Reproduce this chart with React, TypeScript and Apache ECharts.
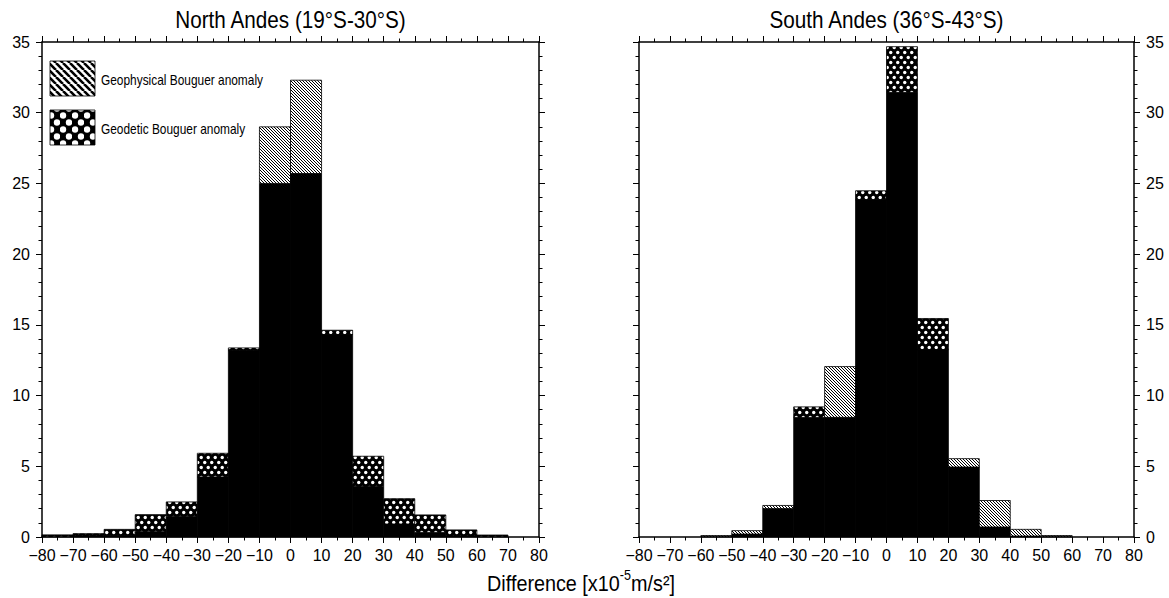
import React, { useEffect, useRef } from 'react';
import * as echarts from 'echarts';

// Histogram bin edges (x10^-5 m/s^2)
const binEdges = [-80, -70, -60, -50, -40, -30, -20, -10, 0, 10, 20, 30, 40, 50, 60, 70, 80];

// Percentages per bin, North Andes
const northGeophysical = [0.05, 0.07, 0.10, 0.38, 1.46, 4.25, 13.18, 29.0, 32.3, 14.32, 3.58, 0.92, 0.33, 0.07, 0.05, 0];
const northGeodetic = [0.15, 0.24, 0.54, 1.58, 2.48, 5.92, 13.37, 25.0, 25.7, 14.62, 5.71, 2.71, 1.56, 0.5, 0.14, 0];

// Percentages per bin, South Andes
const southGeophysical = [0, 0, 0.1, 0.45, 2.23, 8.46, 12.05, 23.84, 31.44, 13.25, 5.54, 2.58, 0.54, 0.1, 0, 0];
const southGeodetic = [0, 0, 0.05, 0.21, 2.01, 9.2, 8.46, 24.48, 34.67, 15.45, 4.95, 0.71, 0.07, 0.05, 0, 0];

const panelTitles = ['North Andes (19°S-30°S)', 'South Andes (36°S-43°S)'];
const legendLabels = ['Geophysical Bouguer anomaly', 'Geodetic Bouguer anomaly'];

const TICK_FONT = '"Liberation Sans", Arial, sans-serif';
const NARROW_FONT = '"Liberation Sans", Arial, sans-serif';

function buildSegments(geo: number[], geod: number[]) {
  const out: number[][] = [];
  for (let i = 0; i < geo.length; i++) {
    const a = geo[i];
    const b = geod[i];
    const lo = Math.min(a, b);
    const x0 = binEdges[i];
    const x1 = binEdges[i + 1];
    if (lo > 0) out.push([x0, x1, 0, lo, 0]);
    if (a > b) out.push([x0, x1, lo, a, 1]);
    else if (b > a) out.push([x0, x1, lo, b, 2]);
  }
  return out;
}

function hatchCanvas(size: number, lw: number) {
  const c = document.createElement('canvas');
  c.width = size;
  c.height = size;
  const ctx = c.getContext('2d')!;
  ctx.fillStyle = '#fff';
  ctx.fillRect(0, 0, size, size);
  ctx.strokeStyle = '#000';
  ctx.lineWidth = lw;
  ctx.beginPath();
  for (let k = -1; k <= 1; k++) {
    ctx.moveTo(k * size, 0);
    ctx.lineTo(k * size + size, size);
  }
  ctx.stroke();
  return c;
}

function dotCanvas(w: number, h: number, r: number) {
  const c = document.createElement('canvas');
  c.width = w;
  c.height = h;
  const ctx = c.getContext('2d')!;
  ctx.fillStyle = '#000';
  ctx.fillRect(0, 0, w, h);
  ctx.fillStyle = '#fff';
  ctx.beginPath();
  ctx.arc(w / 4, h / 4, r, 0, Math.PI * 2);
  ctx.fill();
  ctx.beginPath();
  ctx.arc((3 * w) / 4, (3 * h) / 4, r, 0, Math.PI * 2);
  ctx.fill();
  return c;
}

export default function App() {
  const ref = useRef<HTMLDivElement>(null);

  useEffect(() => {
    if (!ref.current) return;
    const chart = echarts.init(ref.current, null, { renderer: 'svg' });

    const barHatch = { image: hatchCanvas(3, 1), repeat: 'repeat' };
    const barDots = { image: dotCanvas(7, 10, 1.7), repeat: 'repeat' };
    const legHatch = { image: hatchCanvas(7, 2.6), repeat: 'repeat' };
    const legDots = { image: dotCanvas(12, 14, 3.2), repeat: 'repeat' };
    const fills: any[] = ['#000', barHatch, barDots];

    const grids = [
      { left: 42, top: 42, width: 497, height: 495 },
      { left: 639, top: 42, width: 495, height: 495 },
    ];

    const fmt = (v: number) => (v < 0 ? '\u2212' + Math.abs(v) : String(v));

    const mkX = (gridIndex: number, position: 'bottom' | 'top') => ({
      type: 'value',
      gridIndex,
      position,
      min: -80,
      max: 80,
      interval: 10,
      axisLine: { show: true, onZero: false, lineStyle: { color: '#000', width: 1.5 } },
      axisTick: { show: true, inside: false, length: 6, lineStyle: { color: '#000', width: 1 } },
      minorTick: { show: true, splitNumber: 2, length: 3.5, lineStyle: { color: '#000', width: 1 } },
      axisLabel: {
        show: position === 'bottom',
        formatter: fmt,
        fontSize: 16,
        fontFamily: TICK_FONT,
        color: '#000',
        margin: 10,
        showMinLabel: true,
        showMaxLabel: true,
      },
      splitLine: { show: false },
      minorSplitLine: { show: false },
    });

    const mkY = (gridIndex: number, position: 'left' | 'right', labels: boolean) => ({
      type: 'value',
      gridIndex,
      position,
      min: 0,
      max: 35,
      interval: 5,
      axisLine: { show: true, onZero: false, lineStyle: { color: '#000', width: 1.5 } },
      axisTick: { show: true, inside: false, length: 6, lineStyle: { color: '#000', width: 1 } },
      minorTick: { show: true, splitNumber: 5, length: 3.5, lineStyle: { color: '#000', width: 1 } },
      axisLabel: {
        show: labels,
        fontSize: 16,
        fontFamily: TICK_FONT,
        color: '#000',
        margin: 12,
        showMinLabel: true,
        showMaxLabel: true,
      },
      splitLine: { show: false },
      minorSplitLine: { show: false },
    });

    const renderItem = (params: any, api: any) => {
      const x0 = api.value(0);
      const x1 = api.value(1);
      const y0 = api.value(2);
      const y1 = api.value(3);
      const kind = api.value(4);
      const p0 = api.coord([x0, y1]);
      const p1 = api.coord([x1, y0]);
      return {
        type: 'rect',
        shape: { x: p0[0], y: p0[1], width: p1[0] - p0[0], height: p1[1] - p0[1] },
        style: { fill: fills[kind], stroke: '#000', lineWidth: 0.8 },
      };
    };

    const panelData = [
      buildSegments(northGeophysical, northGeodetic),
      buildSegments(southGeophysical, southGeodetic),
    ];

    const graphics: any[] = [];
    grids.forEach((g, i) => {
      graphics.push({
        type: 'text',
        x: g.left + g.width / 2,
        y: 20,
        scaleX: 0.9,
        style: {
          text: panelTitles[i],
          fontSize: 23,
          fontFamily: NARROW_FONT,
          fill: '#000',
          align: 'center',
          verticalAlign: 'middle',
        },
      });
    });

    // legend
    const legendFills = [legHatch, legDots];
    const legendY = [61, 110];
    legendLabels.forEach((lab, i) => {
      graphics.push({
        type: 'rect',
        shape: { x: 50, y: legendY[i], width: 45, height: 35 },
        style: { fill: legendFills[i], stroke: '#000', lineWidth: 0.8 },
      });
      graphics.push({
        type: 'text',
        x: 101,
        y: legendY[i] + 19,
        scaleX: 0.85,
        style: {
          text: lab,
          fontSize: 14,
          fontFamily: NARROW_FONT,
          fill: '#000',
          align: 'left',
          verticalAlign: 'middle',
        },
      });
    });

    graphics.push({
      type: 'text',
      x: 581,
      y: 581,
      scaleX: 0.9,
      style: {
        text: '{a|Difference [x10}{s|-5}{a|m/s²]}',
        align: 'center',
        verticalAlign: 'middle',
        fill: '#000',
        rich: {
          a: { fontSize: 22, fontFamily: NARROW_FONT, fill: '#000', lineHeight: 26, verticalAlign: 'bottom' },
          s: { fontSize: 14, fontFamily: NARROW_FONT, fill: '#000', verticalAlign: 'top' },
        },
      },
    });

    chart.setOption({
      animation: false,
      backgroundColor: '#fff',
      grid: grids,
      xAxis: [mkX(0, 'bottom'), mkX(0, 'top'), mkX(1, 'bottom'), mkX(1, 'top')],
      yAxis: [mkY(0, 'left', true), mkY(0, 'right', false), mkY(1, 'left', false), mkY(1, 'right', true)],
      series: [
        {
          type: 'custom',
          xAxisIndex: 0,
          yAxisIndex: 0,
          renderItem,
          encode: { x: [0, 1], y: [2, 3] },
          data: panelData[0],
          silent: true,
        },
        {
          type: 'custom',
          xAxisIndex: 2,
          yAxisIndex: 2,
          renderItem,
          encode: { x: [0, 1], y: [2, 3] },
          data: panelData[1],
          silent: true,
        },
      ],
      graphic: graphics,
    } as any);

    return () => chart.dispose();
  }, []);

  return (
    <div
      ref={ref}
      style={{ position: 'fixed', left: 0, top: 0, width: 1169, height: 598, background: '#fff' }}
    />
  );
}
